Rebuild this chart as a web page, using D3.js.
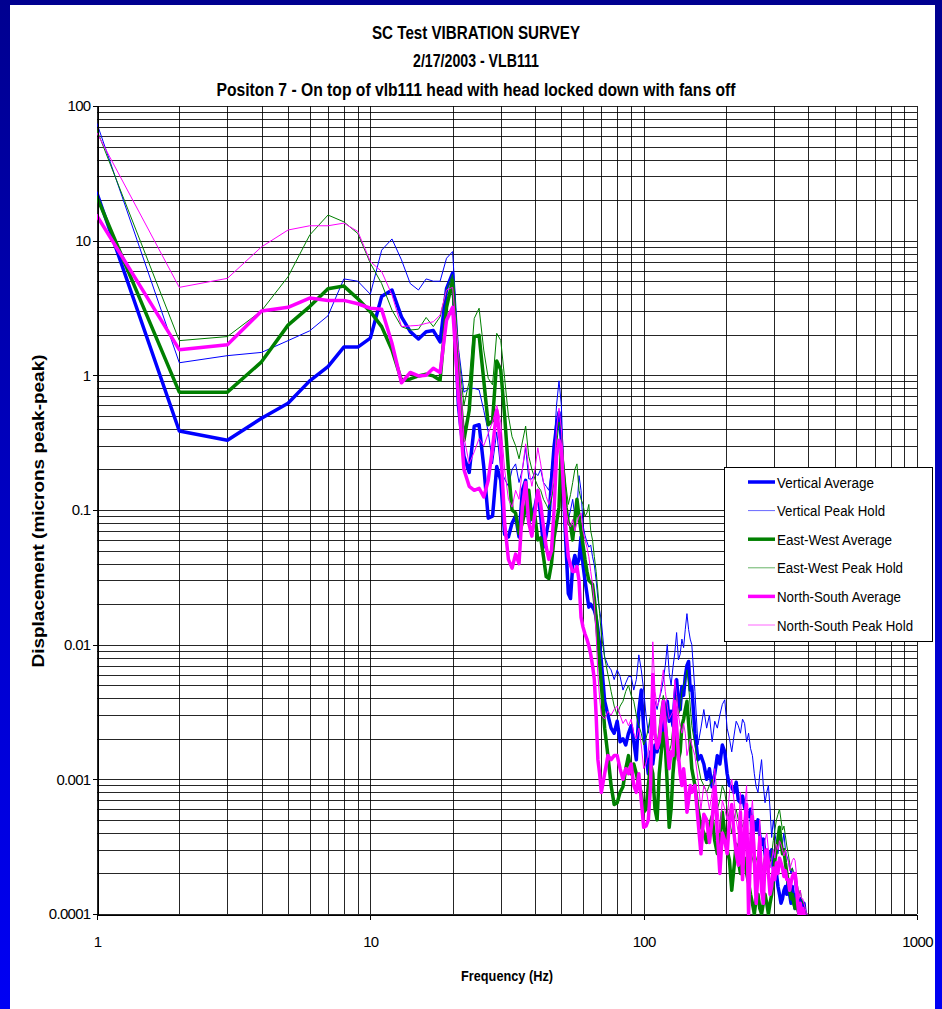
<!DOCTYPE html>
<html>
<head>
<meta charset="utf-8">
<script src="https://cdn.jsdelivr.net/npm/d3@7"></script>
<style>
  html, body { margin: 0; padding: 0; background: #fff; }
  svg { display: block; }
  text { font-family: "Liberation Sans", Arial, Helvetica, sans-serif; fill: #000; }
</style>
</head>
<body>
<svg id="chart" width="942" height="1009"></svg>
<script>
// ---- Measurement data (displacement in microns peak-peak) ----
const freqHz = [
  1,2,3,4,5,6,7,8,9,10,11,12,13,14,15,16,17,18,19,20,
  21,22,23,24,25,26,27,28,29,30,31,32,33,34,35,36,37,38,39,40,
  41,42,43,44,45,46,47,48,49,50,51,52,53,54,55,56,57,58,59,60,
  61,62,63,64,65,66,67,68,69,70,
  72,74,76,78,80,82,84,86,88,90,92,94,96,98,100,102,104,106,108,110,
  112,114,116,118,120,122,124,126,128,130,132,134,136,138,140,142,144,146,148,150,
  154,158,162,166,170,174,178,182,186,190,194,198,202,206,210,214,218,222,226,230,
  234,238,242,246,250,254,258,262,266,270,274,278,282,286,290,294,298,302,306,310,
  314,318,322,326,330,334,338,342,346,350,354,358,362,366,370,374,378,382,386,390,
  394,398
];

const vertAvg = [
  22.5,0.386,0.33,0.48,0.62,0.91,1.16,1.62,1.62,1.89,3.85,4.3,2.72,2.11,1.86,2.11,2.15,1.77,4.4,5.75,
  0.6,0.25,0.19,0.42,0.43,0.21,0.087,0.09,0.21,0.166,
  0.066,0.063,0.08,0.09,0.063,0.14,0.166,0.08,0.095,0.105,
  0.137,0.09,0.053,0.066,0.085,0.166,0.295,0.42,0.53,0.33,
  0.126,0.053,0.024,0.022,0.039,0.046,0.039,0.043,0.063,0.039,
  0.03,0.024,0.019,0.02,0.019,0.018,0.016,0.013,0.01,0.0075,
  0.0038,0.003,0.0024,0.0022,0.0027,0.0019,0.002,0.0018,0.0022,0.0025,
  0.0019,0.0014,0.0032,0.0046,0.0024,0.0015,0.0011,0.0016,0.0013,0.0018,
  0.0016,0.002,0.0017,0.0024,0.0031,0.0038,0.0027,0.0032,0.0025,0.0041,
  0.0055,0.0038,0.0033,0.0049,0.0042,0.0058,0.007,0.0075,0.0046,0.0049,
  0.0022,0.0014,0.0015,0.0013,0.001,0.0012,0.00088,0.0011,0.0015,0.0013,
  0.0018,0.0016,0.0011,0.0009,0.00088,0.0008,0.00095,0.0007,0.00067,0.00075,
  0.00062,0.00057,0.00053,0.0006,0.00037,0.00048,0.00042,0.0005,0.00038,0.00033,
  0.00036,0.00028,0.00023,0.00026,0.00028,0.0003,0.00022,0.00019,0.0002,0.00016,
  0.00014,0.00012,0.00013,0.00015,0.00016,0.00014,0.00018,0.00014,0.00012,0.00016,
  0.00013,0.00011,0.00014,0.00012,0.0001,0.00013,0.00011,0.0001,0.00012,0.0001,
  0.00009,0.00008
];

const vertPeak = [
  74,1.24,1.40,1.48,1.81,2.14,2.77,5.2,5.0,4.0,8.5,10.3,7.2,4.8,4.3,5.2,5.0,5.0,7.4,8.3,
  1.6,0.75,0.8,0.8,0.78,0.55,0.38,0.22,0.38,0.2,
  0.17,0.15,0.2,0.22,0.16,0.2,0.29,0.17,0.17,0.19,
  0.18,0.2,0.16,0.15,0.14,0.2,0.3,0.6,0.91,0.6,
  0.17,0.11,0.085,0.1,0.12,0.09,0.1,0.18,0.14,0.077,
  0.065,0.058,0.053,0.055,0.045,0.039,0.03,0.022,0.018,0.015,
  0.0081,0.007,0.0065,0.0055,0.0065,0.0058,0.0046,0.0052,0.0058,0.0058,
  0.0046,0.0055,0.0084,0.0065,0.0046,0.003,0.0022,0.003,0.0026,0.0038,
  0.0033,0.004,0.0045,0.0055,0.007,0.01,0.0062,0.005,0.0068,0.0087,
  0.0123,0.0077,0.0085,0.011,0.0095,0.013,0.017,0.013,0.011,0.01,
  0.0045,0.0018,0.0024,0.0033,0.0024,0.003,0.0019,0.0027,0.0024,0.003,
  0.0036,0.0039,0.0024,0.002,0.0016,0.0021,0.0027,0.0025,0.0022,0.0028,
  0.0026,0.0019,0.0022,0.0017,0.0015,0.0011,0.00088,0.0008,0.0011,0.0014,
  0.0009,0.00067,0.0008,0.0009,0.0006,0.00037,0.0005,0.0004,0.00033,0.00028,
  0.00035,0.0004,0.00033,0.0004,0.0003,0.00027,0.00025,0.00022,0.0002,0.00022,
  0.0002,0.00016,0.00014,0.00015,0.00013,0.00012,0.00013,0.00012,0.00011,0.0001,
  0.0001,0.00009
];

const ewAvg = [
  21,0.75,0.75,1.26,2.36,3.24,4.4,4.6,3.7,2.97,2.3,1.54,0.92,0.94,0.99,1.02,0.99,0.92,3.2,5.1,
  1.0,0.33,0.55,1.94,1.98,0.92,0.43,0.46,1.28,1.1,
  0.5,0.2,0.1,0.095,0.067,0.08,0.105,0.14,0.085,0.09,
  0.06,0.062,0.045,0.032,0.031,0.04,0.062,0.08,0.105,0.29,
  0.17,0.105,0.08,0.077,0.06,0.085,0.12,0.09,0.07,0.055,
  0.043,0.035,0.03,0.029,0.028,0.022,0.016,0.011,0.0075,0.005,
  0.0024,0.0015,0.0009,0.00065,0.00067,0.0008,0.00088,0.0012,0.0015,0.0011,
  0.0013,0.0011,0.0009,0.0008,0.00057,0.0006,0.0009,0.0013,0.0011,0.0006,
  0.0005,0.0011,0.0016,0.0022,0.0018,0.0009,0.00044,0.0006,0.0011,0.0016,
  0.0022,0.0014,0.0016,0.0025,0.0028,0.0033,0.0038,0.0026,0.0018,0.0012,
  0.0009,0.0006,0.00045,0.0004,0.00034,0.00045,0.00053,0.00035,0.00028,0.00037,
  0.00057,0.0004,0.0003,0.00025,0.00015,0.00022,0.00033,0.00025,0.0002,0.00023,
  0.00026,0.0002,0.00017,0.00014,0.00012,0.0001,0.00013,0.00014,0.00011,0.0001,
  0.00012,0.00014,0.00012,0.0001,0.00012,0.00014,0.00018,0.00025,0.0003,0.00036,
  0.00044,0.00035,0.00028,0.0003,0.00024,0.0002,0.00017,0.00015,0.00013,0.00014,
  0.00012,0.00011,0.00013,0.00011,0.0001,0.00011,0.0001,0.00009,0.0001,0.00009,
  0.00008,0.00008
];

const ewPeak = [
  66,1.81,1.94,3.02,5.4,11.0,15.5,13.8,11.3,6.8,4.8,3.05,2.3,2.17,2.2,2.69,2.3,2.72,4.3,5.6,
  1.5,0.6,0.9,2.65,3.15,1.54,0.95,0.85,2.05,1.82,
  0.95,0.5,0.35,0.3,0.24,0.32,0.42,0.25,0.2,0.17,
  0.15,0.14,0.12,0.11,0.1,0.12,0.16,0.3,0.45,0.4,
  0.22,0.15,0.11,0.13,0.16,0.2,0.22,0.14,0.12,0.11,
  0.09,0.095,0.11,0.07,0.06,0.045,0.035,0.025,0.017,0.012,
  0.008,0.006,0.0045,0.0035,0.003,0.0035,0.0038,0.0045,0.005,0.0042,
  0.0038,0.003,0.0025,0.0022,0.0018,0.002,0.0024,0.003,0.0026,0.002,
  0.0018,0.0025,0.0035,0.0042,0.0035,0.0022,0.0016,0.0018,0.0025,0.0035,
  0.0042,0.003,0.0033,0.0045,0.005,0.0055,0.0065,0.005,0.0035,0.0025,
  0.0018,0.0013,0.001,0.0009,0.0008,0.0009,0.001,0.0008,0.0006,0.0007,
  0.0009,0.0008,0.0006,0.0005,0.0004,0.0005,0.0006,0.0005,0.00042,0.00045,
  0.0005,0.0004,0.00035,0.0003,0.00026,0.00022,0.00025,0.00028,0.00024,0.0002,
  0.00024,0.00028,0.00024,0.0002,0.00024,0.00028,0.00035,0.00042,0.0005,0.00055,
  0.0006,0.0005,0.00042,0.00045,0.00038,0.00032,0.00028,0.00024,0.00021,0.00022,
  0.00019,0.00017,0.00018,0.00016,0.00014,0.00015,0.00013,0.00012,0.00012,0.00011,
  0.0001,0.0001
];

const nsAvg = [
  15.3,1.55,1.69,3.0,3.2,3.75,3.6,3.6,3.4,3.15,3.1,1.73,0.88,1.05,0.99,1.0,1.13,1.05,2.57,3.2,
  0.7,0.2,0.15,0.14,0.145,0.125,0.166,0.29,0.55,0.3,
  0.08,0.043,0.037,0.047,0.04,0.105,0.16,0.08,0.064,0.095,
  0.14,0.11,0.075,0.053,0.043,0.05,0.1,0.25,0.33,0.29,
  0.13,0.07,0.045,0.039,0.035,0.035,0.038,0.03,0.016,0.0135,
  0.012,0.011,0.0098,0.0085,0.007,0.0055,0.003,0.0014,0.0011,0.0008,
  0.0011,0.0015,0.0014,0.0015,0.0015,0.0012,0.001,0.0012,0.0011,0.0013,
  0.0009,0.0008,0.0011,0.0007,0.00044,0.00045,0.0005,0.0009,0.006,0.0022,
  0.0017,0.0019,0.0028,0.0038,0.0025,0.0018,0.0012,0.0016,0.0015,0.0038,
  0.0025,0.0015,0.0011,0.0009,0.0012,0.0009,0.00057,0.0007,0.0009,0.0008,
  0.0009,0.0005,0.00028,0.00055,0.0005,0.00034,0.0005,0.00088,0.0004,0.0002,
  0.0004,0.00035,0.00028,0.0005,0.00065,0.0004,0.00028,0.00023,0.00057,0.00018,
  0.0004,0.00065,0.0001,0.0003,0.00053,0.00025,0.00012,0.0002,0.00037,0.00015,
  0.00012,0.00025,0.0003,0.0002,0.00014,0.00016,0.00022,0.00018,0.00024,0.0002,
  0.00026,0.00024,0.00022,0.00019,0.00021,0.00018,0.00018,0.00015,0.00017,0.00019,
  0.0002,0.0002,0.00016,0.00012,0.0001,0.00012,0.0001,0.00011,0.0001,0.00009,
  0.00009,0.00008
];

const nsPeak = [
  63,4.5,5.25,9.0,12.0,12.9,12.9,13.5,11.7,7.0,5.9,3.96,2.3,2.33,2.35,2.43,2.5,2.8,4.3,4.5,
  1.5,0.35,0.22,0.27,0.34,0.3,0.37,0.45,0.6,0.45,
  0.2,0.12,0.105,0.14,0.12,0.2,0.31,0.2,0.15,0.2,
  0.29,0.22,0.16,0.126,0.11,0.13,0.2,0.4,0.57,0.4,
  0.18,0.1,0.08,0.075,0.085,0.07,0.08,0.09,0.095,0.07,
  0.06,0.053,0.045,0.035,0.028,0.02,0.012,0.006,0.004,0.003,
  0.0028,0.0032,0.003,0.0033,0.0035,0.003,0.0026,0.0028,0.0025,0.0028,
  0.0022,0.002,0.0024,0.0018,0.0012,0.0013,0.0016,0.0025,0.0105,0.0045,
  0.0035,0.0038,0.005,0.0065,0.0045,0.0035,0.0028,0.003,0.0032,0.0055,
  0.0042,0.003,0.0025,0.0022,0.0026,0.0022,0.0015,0.0017,0.002,0.0018,
  0.0015,0.001,0.0006,0.0009,0.0008,0.0006,0.0008,0.0012,0.0007,0.0004,
  0.0007,0.0006,0.0005,0.0008,0.001,0.0007,0.0005,0.0004,0.0008,0.0003,
  0.0006,0.0009,0.0002,0.0005,0.0007,0.0004,0.0002,0.0003,0.0005,0.00025,
  0.0002,0.00035,0.0004,0.0003,0.00022,0.00025,0.0003,0.00026,0.00033,0.0003,
  0.00035,0.00033,0.0003,0.00027,0.0003,0.00026,0.00025,0.00021,0.00023,0.00025,
  0.00026,0.00025,0.0002,0.00016,0.00013,0.00015,0.00013,0.00013,0.00012,0.00011,
  0.0001,0.0001
];

const seriesNames = ["Vertical Average", "Vertical Peak Hold", "East-West Average",
                     "East-West Peak Hold", "North-South Average", "North-South Peak Hold"];
const seriesColors = ["#0000ff", "#0000ff", "#008000", "#008000", "#ff00ff", "#ff00ff"];
const seriesWidths = [3.5, 1, 3.5, 1, 3.5, 1];
const seriesValues = [vertAvg, vertPeak, ewAvg, ewPeak, nsAvg, nsPeak];

const xTickValues = [1, 10, 100, 1000];
const xTickLabels = ["1", "10", "100", "1000"];
const yTickValues = [0.0001, 0.001, 0.01, 0.1, 1, 10, 100];
const yTickLabels = ["0.0001", "0.001", "0.01", "0.1", "1", "10", "100"];

const titleLines = ["SC Test VIBRATION SURVEY", "2/17/2003 - VLB111",
                    "Positon 7 - On top of vlb111 head with head locked down with fans off"];

seriesValues.forEach((s, i) => {
  if (s.length !== freqHz.length) throw new Error(seriesNames[i] + " length " + s.length + " vs " + freqHz.length);
});

// ---- Layout ----
const W = 942, H = 1009;
const plot = { left: 97, right: 917, top: 106, bottom: 914 };

const svg = d3.select("#chart");
const defs = svg.append("defs");

// Slide frame: dark navy at the top, brighter blue towards the bottom
const grad = defs.append("linearGradient").attr("id", "frameGrad")
  .attr("x1", 0).attr("y1", 0).attr("x2", 0).attr("y2", 1);
grad.append("stop").attr("offset", "0%").attr("stop-color", "#000090");
grad.append("stop").attr("offset", "100%").attr("stop-color", "#0000f4");
svg.append("rect").attr("width", W).attr("height", H).attr("fill", "url(#frameGrad)");
svg.append("rect").attr("x", 10).attr("y", 5).attr("width", 925).attr("height", H - 5).attr("fill", "#fff");

const x = d3.scaleLog().domain([1, 1000]).range([plot.left, plot.right]);
const y = d3.scaleLog().domain([0.0001, 100]).range([plot.bottom, plot.top]);

// ---- Grid: every 1..9 multiple of each decade ----
const xGrid = [];
[1, 10, 100].forEach(d => { for (let k = 1; k < 10; k++) xGrid.push(k * d); });
xGrid.push(1000);
const yGrid = [];
[0.0001, 0.001, 0.01, 0.1, 1, 10].forEach(d => { for (let k = 1; k < 10; k++) yGrid.push(k * d); });
yGrid.push(100);

const grid = svg.append("g").attr("shape-rendering", "crispEdges");
grid.selectAll("line.gx").data(xGrid).join("line").attr("class", "gx")
  .attr("x1", d => Math.round(x(d)) + 0.5).attr("x2", d => Math.round(x(d)) + 0.5)
  .attr("y1", plot.top).attr("y2", plot.bottom)
  .attr("stroke", "#000").attr("stroke-opacity", 0.85).attr("stroke-width", 1);
grid.selectAll("line.gy").data(yGrid).join("line").attr("class", "gy")
  .attr("y1", d => Math.round(y(d)) + 0.5).attr("y2", d => Math.round(y(d)) + 0.5)
  .attr("x1", plot.left).attr("x2", plot.right)
  .attr("stroke", "#000").attr("stroke-opacity", 0.85).attr("stroke-width", 1);

// ---- Series ----
defs.append("clipPath").attr("id", "plotClip").append("rect")
  .attr("x", plot.left).attr("y", plot.top)
  .attr("width", plot.right - plot.left).attr("height", plot.bottom - plot.top + 1);

const line = d3.line().x(d => x(d[0])).y(d => y(d[1]));
const seriesG = svg.append("g").attr("clip-path", "url(#plotClip)");
seriesValues.forEach((vals, i) => {
  const pts = freqHz.map((f, j) => [f, vals[j]]);
  seriesG.append("path").datum(pts)
    .attr("d", line)
    .attr("fill", "none")
    .attr("stroke", seriesColors[i])
    .attr("stroke-width", seriesWidths[i])
    .attr("stroke-linejoin", "round")
    .attr("stroke-linecap", "round");
});

// ---- Axes ----
const yAxis = d3.axisLeft(y).tickValues(yTickValues)
  .tickFormat((d, i) => yTickLabels[i]).tickSize(5).tickPadding(2);
const gy = svg.append("g").attr("transform", `translate(${plot.left + 0.5},0)`).call(yAxis);
gy.selectAll("text").attr("font-size", 15).attr("letter-spacing", "-0.7px")
  .attr("font-family", "Liberation Sans, Arial, sans-serif");
gy.selectAll("line, path").attr("stroke", "#000").attr("shape-rendering", "crispEdges");

const xAxis = d3.axisBottom(x).tickValues(xTickValues)
  .tickFormat((d, i) => xTickLabels[i]).tickSize(5).tickPadding(17);
const gx = svg.append("g").attr("transform", `translate(0,${plot.bottom + 0.5})`).call(xAxis);
gx.selectAll("text").attr("font-size", 15).attr("letter-spacing", "-0.7px")
  .attr("font-family", "Liberation Sans, Arial, sans-serif");
gx.selectAll("line, path").attr("stroke", "#000").attr("shape-rendering", "crispEdges");

// ---- Titles (narrow, tightly set bold type) ----
const titleSpecs = [
  { y: 39, len: 208 },
  { y: 67, len: 126 },
  { y: 96, len: 519 }
];
titleLines.forEach((t, i) => {
  svg.append("text").attr("x", 476).attr("y", titleSpecs[i].y)
    .attr("text-anchor", "middle").attr("font-size", 17.5).attr("font-weight", "bold")
    .attr("textLength", titleSpecs[i].len).attr("lengthAdjust", "spacingAndGlyphs")
    .text(t);
});

svg.append("text").attr("x", 507).attr("y", 981)
  .attr("text-anchor", "middle").attr("font-size", 15).attr("font-weight", "bold")
  .attr("textLength", 92).attr("lengthAdjust", "spacingAndGlyphs")
  .text("Frequency (Hz)");

svg.append("text").attr("transform", "translate(44,511) rotate(-90)")
  .attr("text-anchor", "middle").attr("font-size", 16.5).attr("font-weight", "bold")
  .attr("textLength", 313).attr("lengthAdjust", "spacingAndGlyphs")
  .text("Displacement (microns peak-peak)");

// ---- Legend ----
const legend = svg.append("g");
legend.append("rect").attr("x", 724.5).attr("y", 467.5).attr("width", 208).attr("height", 174)
  .attr("fill", "#fff").attr("stroke", "#000").attr("stroke-width", 1).attr("shape-rendering", "crispEdges");
const legendTextLen = [97, 108, 115, 126, 124, 136];
seriesNames.forEach((name, i) => {
  const cy = 482 + i * 28.6;
  legend.append("line").attr("x1", 748).attr("x2", 775).attr("y1", cy).attr("y2", cy)
    .attr("stroke", seriesColors[i]).attr("stroke-width", seriesWidths[i] === 1 ? 1 : 3.5)
    .attr("stroke-opacity", seriesWidths[i] === 1 ? 0.6 : 1);
  legend.append("text").attr("x", 777).attr("y", cy + 5.5)
    .attr("font-size", 15.5)
    .attr("textLength", legendTextLen[i]).attr("lengthAdjust", "spacingAndGlyphs")
    .text(name);
});
</script>
</body>
</html>
